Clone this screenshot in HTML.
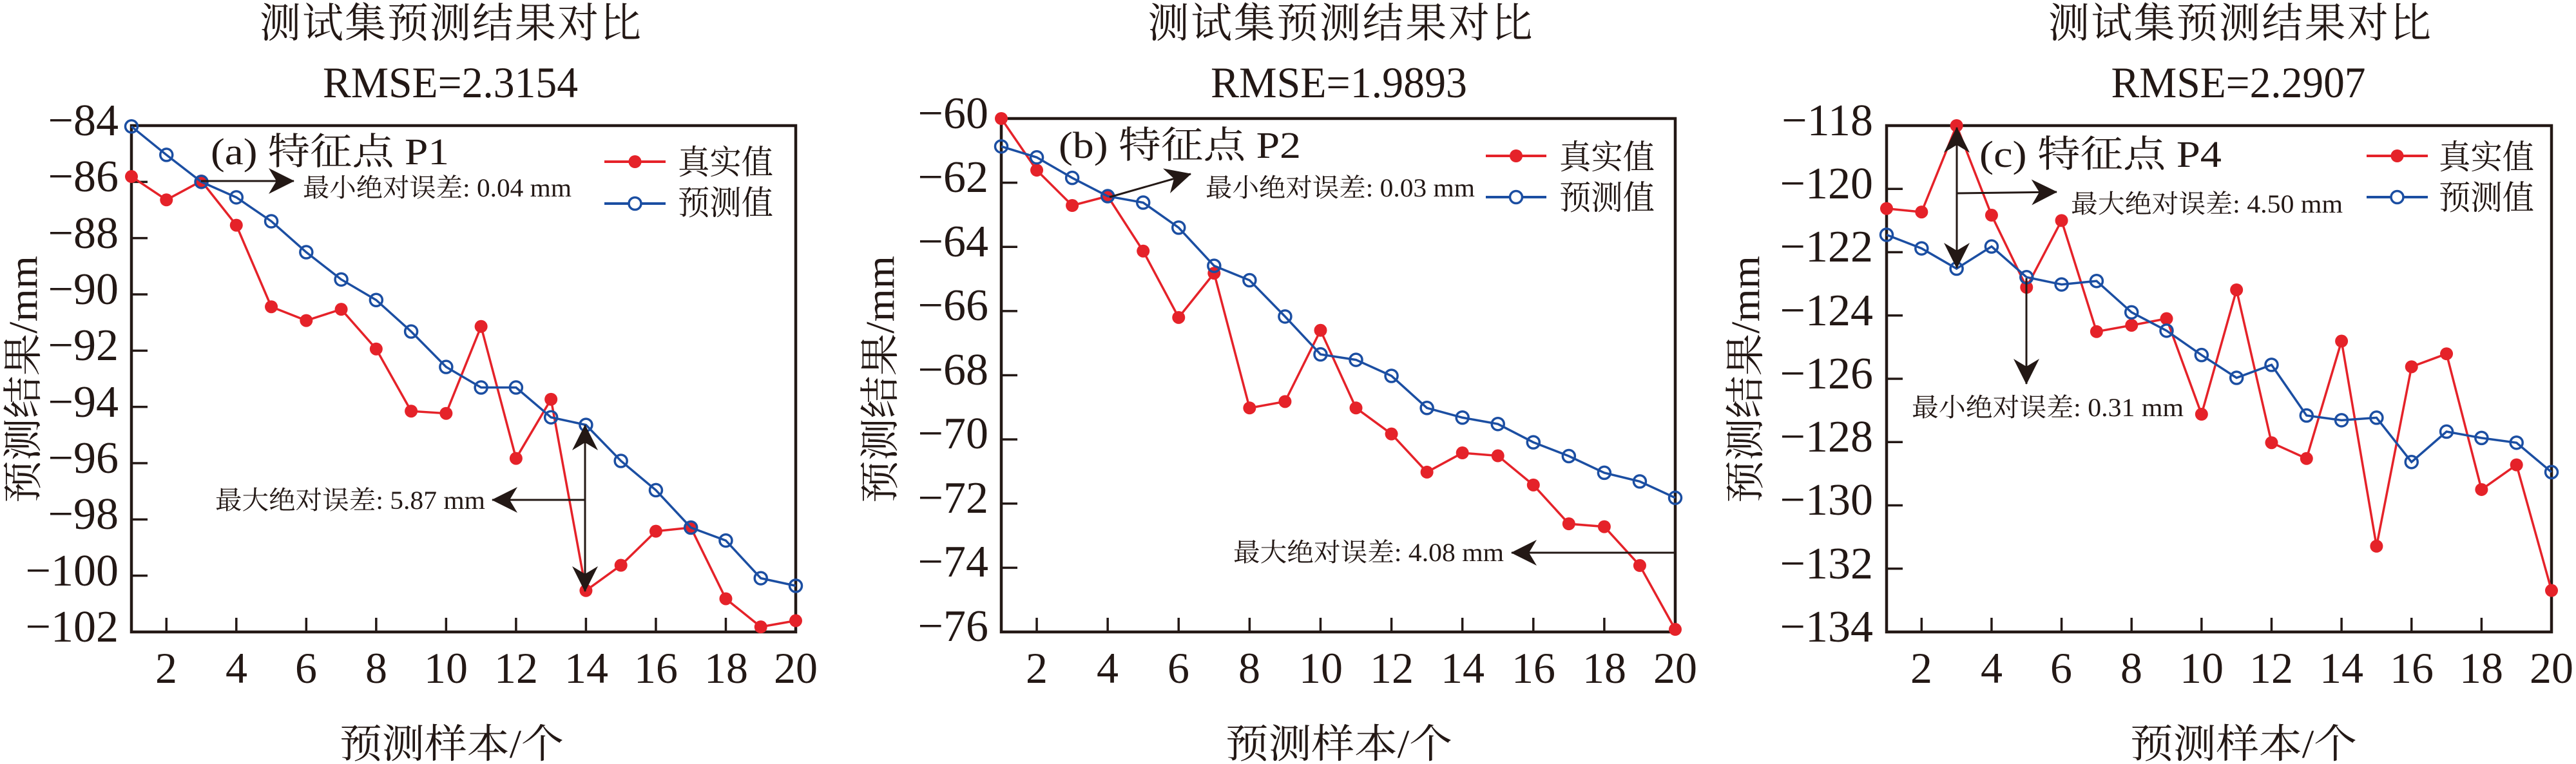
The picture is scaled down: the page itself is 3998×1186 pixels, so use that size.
<!DOCTYPE html>
<html><head><meta charset="utf-8">
<style>
html,body{margin:0;padding:0;background:#fff;}
svg{display:block;}
text{font-family:"Liberation Serif","Noto Serif CJK SC","Noto Sans CJK SC",serif;fill:#231815;}
</style></head>
<body>
<svg id="s" width="3998" height="1186" viewBox="0 0 3998 1186" xmlns="http://www.w3.org/2000/svg">
<defs>
<marker id="ah" viewBox="0 0 10 10" refX="9" refY="5" markerWidth="10" markerHeight="10" markerUnits="userSpaceOnUse" orient="auto" style="overflow:visible">
<path d="M0,0 L40,20 L0,40 L12,20 Z" transform="translate(-30,-15)" fill="#231815"/>
</marker>
</defs>
<g id="plots"></g>

<text x="699" y="58" font-size="64" text-anchor="middle" textLength="592">测试集预测结果对比</text>
<text x="699" y="151" font-size="68" text-anchor="middle" textLength="396" lengthAdjust="spacingAndGlyphs">RMSE=2.3154</text>
<text x="2080" y="58" font-size="64" text-anchor="middle" textLength="597">测试集预测结果对比</text>
<text x="2078" y="151" font-size="68" text-anchor="middle" textLength="398" lengthAdjust="spacingAndGlyphs">RMSE=1.9893</text>
<text x="3476" y="58" font-size="64" text-anchor="middle" textLength="594">测试集预测结果对比</text>
<text x="3474" y="151" font-size="68" text-anchor="middle" textLength="395" lengthAdjust="spacingAndGlyphs">RMSE=2.2907</text>

<text x="701" y="1176" font-size="62" text-anchor="middle" textLength="348" lengthAdjust="spacingAndGlyphs">预测样本/个</text>
<text x="2078" y="1176" font-size="62" text-anchor="middle" textLength="352" lengthAdjust="spacingAndGlyphs">预测样本/个</text>
<text x="3482" y="1176" font-size="62" text-anchor="middle" textLength="352" lengthAdjust="spacingAndGlyphs">预测样本/个</text>

<text transform="translate(57,589) rotate(-90)" font-size="62" text-anchor="middle" textLength="384" lengthAdjust="spacingAndGlyphs">预测结果/mm</text>
<text transform="translate(1387,589) rotate(-90)" font-size="62" text-anchor="middle" textLength="384" lengthAdjust="spacingAndGlyphs">预测结果/mm</text>
<text transform="translate(2730,589) rotate(-90)" font-size="62" text-anchor="middle" textLength="384" lengthAdjust="spacingAndGlyphs">预测结果/mm</text>

<text x="327" y="255" font-size="58" textLength="370" lengthAdjust="spacingAndGlyphs">(a) 特征点 P1</text>
<text x="1643" y="245" font-size="58" textLength="376" lengthAdjust="spacingAndGlyphs">(b) 特征点 P2</text>
<text x="3072" y="259" font-size="58" textLength="376" lengthAdjust="spacingAndGlyphs">(c) 特征点 P4</text>

<text x="1052" y="270" font-size="52" textLength="148" lengthAdjust="spacingAndGlyphs">真实值</text>
<text x="1052" y="333" font-size="52" textLength="148" lengthAdjust="spacingAndGlyphs">预测值</text>
<text x="2420" y="262" font-size="52" textLength="148" lengthAdjust="spacingAndGlyphs">真实值</text>
<text x="2420" y="325" font-size="52" textLength="148" lengthAdjust="spacingAndGlyphs">预测值</text>
<text x="3785" y="262" font-size="52" textLength="148" lengthAdjust="spacingAndGlyphs">真实值</text>
<text x="3785" y="325" font-size="52" textLength="148" lengthAdjust="spacingAndGlyphs">预测值</text>

<text x="470" y="305" font-size="40" textLength="417" lengthAdjust="spacingAndGlyphs">最小绝对误差: 0.04 mm</text>
<text x="334" y="790" font-size="40" textLength="419" lengthAdjust="spacingAndGlyphs">最大绝对误差: 5.87 mm</text>
<text x="1871" y="305" font-size="40" textLength="418" lengthAdjust="spacingAndGlyphs">最小绝对误差: 0.03 mm</text>
<text x="1914" y="871" font-size="40" textLength="420" lengthAdjust="spacingAndGlyphs">最大绝对误差: 4.08 mm</text>
<text x="3214" y="330" font-size="40" textLength="422" lengthAdjust="spacingAndGlyphs">最大绝对误差: 4.50 mm</text>
<text x="2967" y="646" font-size="40" textLength="422" lengthAdjust="spacingAndGlyphs">最小绝对误差: 0.31 mm</text>

<g font-size="70" text-anchor="end">
<text x="184" y="210">−84</text><text x="184" y="297">−86</text><text x="184" y="385">−88</text><text x="184" y="472">−90</text><text x="184" y="559">−92</text><text x="184" y="647">−94</text><text x="184" y="734">−96</text><text x="184" y="821">−98</text><text x="184" y="909">−100</text><text x="184" y="996">−102</text>
</g>
<g font-size="70" text-anchor="end">
<text x="1534" y="199">−60</text><text x="1534" y="298">−62</text><text x="1534" y="398">−64</text><text x="1534" y="497">−66</text><text x="1534" y="597">−68</text><text x="1534" y="696">−70</text><text x="1534" y="796">−72</text><text x="1534" y="895">−74</text><text x="1534" y="995">−76</text>
</g>
<g font-size="70" text-anchor="end">
<text x="2907" y="210">−118</text><text x="2907" y="308">−120</text><text x="2907" y="406">−122</text><text x="2907" y="505">−124</text><text x="2907" y="603">−126</text><text x="2907" y="701">−128</text><text x="2907" y="799">−130</text><text x="2907" y="898">−132</text><text x="2907" y="996">−134</text>
</g>
<g font-size="68" text-anchor="middle">
<text x="258" y="1060">2</text><text x="367" y="1060">4</text><text x="475" y="1060">6</text><text x="584" y="1060">8</text><text x="692" y="1060">10</text><text x="801" y="1060">12</text><text x="910" y="1060">14</text><text x="1018" y="1060">16</text><text x="1127" y="1060">18</text><text x="1235" y="1060">20</text>
</g>
<g font-size="68" text-anchor="middle">
<text x="1609" y="1060">2</text><text x="1719" y="1060">4</text><text x="1829" y="1060">6</text><text x="1939" y="1060">8</text><text x="2050" y="1060">10</text><text x="2160" y="1060">12</text><text x="2270" y="1060">14</text><text x="2380" y="1060">16</text><text x="2490" y="1060">18</text><text x="2600" y="1060">20</text>
</g>
<g font-size="68" text-anchor="middle">
<text x="2982" y="1060">2</text><text x="3091" y="1060">4</text><text x="3199" y="1060">6</text><text x="3308" y="1060">8</text><text x="3417" y="1060">10</text><text x="3525" y="1060">12</text><text x="3634" y="1060">14</text><text x="3743" y="1060">16</text><text x="3851" y="1060">18</text><text x="3960" y="1060">20</text>
</g>
</svg>
<script>
(function(){
var NS="http://www.w3.org/2000/svg",g=document.getElementById("plots");
function el(n,a){var e=document.createElementNS(NS,n);for(var k in a)e.setAttribute(k,a[k]);g.appendChild(e);return e;}
var RED="#e52229",BLUE="#1b4ea2",K="#231815";
var P=[
{L:204,R:1235,T:195,B:981,y0:-84,y1:-102,
real:[-85.81,-86.64,-85.97,-87.54,-90.44,-90.93,-90.53,-91.94,-94.15,-94.23,-91.14,-95.83,-93.73,-100.53,-99.63,-98.42,-98.29,-100.82,-101.82,-101.6],
pred:[-84.03,-85.04,-86.0,-86.55,-87.4,-88.5,-89.47,-90.2,-91.32,-92.58,-93.31,-93.31,-94.37,-94.64,-95.92,-96.96,-98.29,-98.75,-100.09,-100.36],
leg:[938,1033,251,316]},
{L:1554,R:2600,T:184,B:981,y0:-60,y1:-76,
real:[-60,-61.61,-62.71,-62.42,-64.13,-66.2,-64.82,-69.02,-68.82,-66.6,-69.02,-69.83,-71.02,-70.42,-70.51,-71.42,-72.63,-72.72,-73.93,-75.92],
pred:[-60.87,-61.21,-61.85,-62.42,-62.62,-63.4,-64.59,-65.04,-66.17,-67.35,-67.52,-68.02,-69.02,-69.32,-69.52,-70.09,-70.52,-71.04,-71.31,-71.82],
leg:[2306,2400,242,306]},
{L:2928,R:3960,T:195,B:981,y0:-118,y1:-134,
real:[-120.62,-120.73,-118,-120.83,-123.11,-121,-124.51,-124.31,-124.1,-127.12,-123.19,-128.02,-128.52,-124.81,-131.29,-125.62,-125.21,-129.5,-128.72,-132.69],
pred:[-121.45,-121.88,-122.52,-121.82,-122.79,-123.02,-122.91,-123.9,-124.48,-125.25,-125.97,-125.56,-127.16,-127.31,-127.23,-128.63,-127.67,-127.87,-128.02,-128.95],
leg:[3673,3768,242,306]}
];
P.forEach(function(p){
 function X(i){return p.L+(p.R-p.L)*i/19;}
 function Y(v){return p.T+(p.B-p.T)*(v-p.y0)/(p.y1-p.y0);}
 for(var i=1;i<20;i+=2){el("line",{x1:X(i),x2:X(i),y1:p.B,y2:p.B-22,stroke:K,"stroke-width":3.5});}
 var n=Math.round(Math.abs(p.y1-p.y0)/2);
 for(var j=0;j<=n;j++){var yy=p.T+(p.B-p.T)*j/n;el("line",{x1:p.L,x2:p.L+25,y1:yy,y2:yy,stroke:K,"stroke-width":3.5});}
 el("rect",{x:p.L,y:p.T,width:p.R-p.L,height:p.B-p.T,fill:"none",stroke:K,"stroke-width":4.5});
 function pts(a){return a.map(function(v,i){return X(i)+","+Y(v);}).join(" ");}
 el("polyline",{points:pts(p.real),fill:"none",stroke:RED,"stroke-width":3.5});
 p.real.forEach(function(v,i){el("circle",{cx:X(i),cy:Y(v),r:10,fill:RED});});
 el("polyline",{points:pts(p.pred),fill:"none",stroke:BLUE,"stroke-width":3.5});
 p.pred.forEach(function(v,i){el("circle",{cx:X(i),cy:Y(v),r:9.5,fill:"none",stroke:BLUE,"stroke-width":3.5});});
 var l=p.leg,mx=(l[0]+l[1])/2;
 el("line",{x1:l[0],x2:l[1],y1:l[2],y2:l[2],stroke:RED,"stroke-width":4});
 el("circle",{cx:mx,cy:l[2],r:10,fill:RED});
 el("line",{x1:l[0],x2:l[1],y1:l[3],y2:l[3],stroke:BLUE,"stroke-width":4});
 el("circle",{cx:mx,cy:l[3],r:9.5,fill:"#fff",stroke:BLUE,"stroke-width":3.5});
});
function arrow(x1,y1,x2,y2){el("line",{x1:x1,y1:y1,x2:x2,y2:y2,stroke:K,"stroke-width":3,"marker-end":"url(#ah)"});}
arrow(312,281,456,281);
arrow(908,790,908,660);arrow(908,790,908,918);
arrow(908,776,764,776);
arrow(1722,306,1848,270);
arrow(2600,858,2346,858);
arrow(3037,300,3037,198);arrow(3037,300,3037,416);
arrow(3037,300,3192,298);
arrow(3145,432,3145,596);
})();
</script>
</body></html>
